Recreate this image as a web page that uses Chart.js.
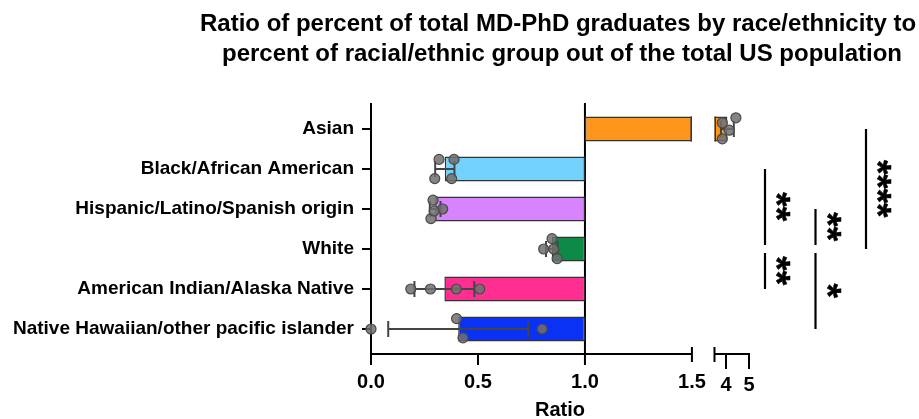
<!DOCTYPE html>
<html>
<head>
<meta charset="utf-8">
<script src="https://cdn.jsdelivr.net/npm/chart.js@4.4.1/dist/chart.umd.min.js"></script>
<style>
  html, body { margin: 0; padding: 0; background: #ffffff; }
  #wrap { width: 919px; height: 419px; position: relative; }
</style>
</head>
<body>
<div id="wrap"><canvas id="chart"></canvas></div>
<script>
// ---- data ----
const categories = [
  'Asian',
  'Black/African American',
  'Hispanic/Latino/Spanish origin',
  'White',
  'American Indian/Alaska Native',
  'Native Hawaiian/other pacific islander'
];
const means = [4.06, 0.345, 0.30, 0.845, 0.343, 0.4075];
const sds = [0.28, 0.045, 0.025, 0.027, 0.14, 0.327];
const pointValues = [
  [3.84, 3.84, 4.14, 4.43],
  [0.318, 0.388, 0.298, 0.377],
  [0.29, 0.335, 0.28, 0.295],
  [0.846, 0.807, 0.854, 0.87],
  [0.186, 0.278, 0.399, 0.508],
  [0.0, 0.40, 0.43, 0.80]
];
// vertical spread of the replicate dots, in category units
const pointSpread = [
  [-0.155, 0.245, 0.03, -0.28],
  [-0.24, -0.24, 0.24, 0.24],
  [-0.22, 0.0, 0.24, 0.05],
  [-0.26, 0.0, 0.0, 0.24],
  [0, 0, 0, 0],
  [0, -0.26, 0.22, 0]
];
const barColors = ['#FF961C', '#73D2FB', '#D883FF', '#0E8A47', '#FF2F92', '#0A32F5'];
const xTickValues = [0, 0.5, 1, 1.5, 4, 5];
const xTickLabels = ['0.0', '0.5', '1.0', '1.5', '4', '5'];
const segmentA = [0, 1.5];
const segmentB = [3.5, 5];
const baselineValue = 1;
const comparisons = [
  { upper: 'Black/African American', lower: 'White', stars: '**', column: 0 },
  { upper: 'White', lower: 'American Indian/Alaska Native', stars: '**', column: 0 },
  { upper: 'Hispanic/Latino/Spanish origin', lower: 'White', stars: '**', column: 1 },
  { upper: 'White', lower: 'Native Hawaiian/other pacific islander', stars: '*', column: 1 },
  { upper: 'Asian', lower: 'White', stars: '****', column: 2 }
];
const titleLines = [
  'Ratio of percent of total MD-PhD graduates by race/ethnicity to',
  'percent of racial/ethnic group out of the total US population'
];

// ---- broken value axis: two linear segments with a gap between them ----
const SHARE_A = 0.849, SHARE_GAP = 0.0597, SHARE_B = 1 - SHARE_A - SHARE_GAP;
class BrokenLinearScale extends Chart.LinearScale {
  _fraction(v) {
    const [a0, a1] = segmentA, [b0, b1] = segmentB;
    if (v <= a1) return (v - a0) / (a1 - a0) * SHARE_A;
    if (v < b0) return SHARE_A + (v - a1) / (b0 - a1) * SHARE_GAP;
    return SHARE_A + SHARE_GAP + (v - b0) / (b1 - b0) * SHARE_B;
  }
  getPixelForValue(v) {
    if (v === null || v === undefined || isNaN(v)) return NaN;
    return this.left + this._fraction(v) * this.width;
  }
  getValueForPixel(p) {
    const f = (p - this.left) / this.width;
    const [a0, a1] = segmentA, [b0, b1] = segmentB;
    if (f <= SHARE_A) return a0 + f / SHARE_A * (a1 - a0);
    if (f < SHARE_A + SHARE_GAP) return a1 + (f - SHARE_A) / SHARE_GAP * (b0 - a1);
    return b0 + (f - SHARE_A - SHARE_GAP) / SHARE_B * (b1 - b0);
  }
}
BrokenLinearScale.id = 'brokenLinear';
BrokenLinearScale.defaults = Chart.LinearScale.defaults;
Chart.register(BrokenLinearScale);

const FONT = '"Liberation Sans", Arial, Helvetica, sans-serif';
const STAR_FONT = 'bold 37px "Liberation Sans", Arial, sans-serif';
const INK = '#000000';

// ---- datasets ----
const barData = means.map(m => [baselineValue, m]);
const dotData = [];
pointValues.forEach((vals, i) => {
  vals.forEach((v, k) => dotData.push({ x: v, y: i + pointSpread[i][k] }));
});

function gapBounds(chart) {
  const x = chart.scales.x;
  return [x.getPixelForValue(segmentA[1]), x.getPixelForValue(segmentB[0])];
}

// hides the part of each bar that falls inside the axis break
const breakClip = {
  id: 'breakClip',
  beforeDatasetDraw(chart, args) {
    if (args.index !== 0) return;
    const { ctx, chartArea: a } = chart;
    const [g0, g1] = gapBounds(chart);
    ctx.save();
    ctx.beginPath();
    ctx.rect(a.left - 10, a.top - 10, g0 - a.left + 10, a.height + 20);
    ctx.rect(g1, a.top - 10, a.right - g1 + 10, a.height + 20);
    ctx.clip();
  },
  afterDatasetDraw(chart, args) {
    if (args.index !== 0) return;
    const { ctx } = chart;
    ctx.restore();
    const [g0, g1] = gapBounds(chart);
    const meta = chart.getDatasetMeta(0);
    const xs = chart.scales.x, ys = chart.scales.y;
    ctx.save();
    ctx.strokeStyle = '#333333';
    ctx.lineWidth = 1.5;
    meta.data.forEach((bar) => {
      const p = bar.getProps(['x', 'y', 'base', 'height'], true);
      const lo = Math.min(p.x, p.base), hi = Math.max(p.x, p.base);
      if (lo < g0 && hi > g1) {
        const t = p.y - p.height / 2, b = p.y + p.height / 2;
        ctx.beginPath();
        ctx.moveTo(g0 - 0.75, t); ctx.lineTo(g0 - 0.75, b);
        ctx.moveTo(g1 + 0.75, t); ctx.lineTo(g1 + 0.75, b);
        ctx.stroke();
      }
    });
    // error bars (mean ± SD)
    ctx.strokeStyle = '#444444';
    ctx.lineWidth = 2;
    means.forEach((m, i) => {
      const y = ys.getPixelForValue(i);
      const x0 = xs.getPixelForValue(m - sds[i]);
      const x1 = xs.getPixelForValue(m + sds[i]);
      ctx.beginPath();
      ctx.moveTo(x0, y); ctx.lineTo(x1, y);
      ctx.moveTo(x0, y - 8); ctx.lineTo(x0, y + 8);
      ctx.moveTo(x1, y - 8); ctx.lineTo(x1, y + 8);
      ctx.stroke();
    });
    ctx.restore();
  }
};

// axis lines, the break caps, the baseline at 1.0 and the tick marks
const brokenAxes = {
  id: 'brokenAxes',
  beforeDatasetsDraw(chart) {
    const { ctx, chartArea: a } = chart;
    const xs = chart.scales.x;
    const axisY = a.bottom + 5;
    const topY = a.top - 6;
    ctx.save();
    ctx.strokeStyle = INK;
    ctx.lineWidth = 2;
    ctx.lineCap = 'butt';
    // y axis
    ctx.beginPath();
    ctx.moveTo(a.left, topY); ctx.lineTo(a.left, axisY + 1);
    ctx.stroke();
    // baseline at 1.0
    const bx = xs.getPixelForValue(baselineValue);
    ctx.beginPath();
    ctx.moveTo(bx, topY); ctx.lineTo(bx, axisY);
    ctx.stroke();
    // x axis segments
    const pa0 = xs.getPixelForValue(segmentA[0]), pa1 = xs.getPixelForValue(segmentA[1]);
    const pb0 = xs.getPixelForValue(segmentB[0]), pb1 = xs.getPixelForValue(segmentB[1]);
    ctx.beginPath();
    ctx.moveTo(pa0 - 1, axisY); ctx.lineTo(pa1, axisY);
    ctx.moveTo(pb0, axisY); ctx.lineTo(pb1 + 1, axisY);
    // break caps
    ctx.moveTo(pa1, axisY - 7); ctx.lineTo(pa1, axisY + 8);
    ctx.moveTo(pb0, axisY - 7); ctx.lineTo(pb0, axisY + 8);
    ctx.stroke();
    // tick marks
    xTickValues.forEach(v => {
      if (v === segmentA[1]) return;
      const px = xs.getPixelForValue(v);
      const len = v >= segmentB[0] ? 15 : 11;
      ctx.beginPath();
      ctx.moveTo(px, axisY); ctx.lineTo(px, axisY + len);
      ctx.stroke();
    });
    ctx.restore();
  }
};

// significance brackets with rotated asterisks
const significance = {
  id: 'significance',
  afterDraw(chart) {
    const { ctx, chartArea: a } = chart;
    const ys = chart.scales.y;
    const trim = 4;
    ctx.save();
    ctx.strokeStyle = INK;
    ctx.fillStyle = INK;
    ctx.lineWidth = 2.2;
    comparisons.forEach((c, idx) => {
      const iu = categories.indexOf(c.upper), il = categories.indexOf(c.lower);
      let y0 = ys.getPixelForValue(iu), y1 = ys.getPixelForValue(il);
      const shared = (cat) => comparisons.some((o, j) => j !== idx && o.column === c.column && (o.upper === cat || o.lower === cat));
      if (shared(c.upper)) y0 += trim;
      if (shared(c.lower)) y1 -= trim;
      const x = a.right + 16 + c.column * 50.5;
      ctx.beginPath();
      ctx.moveTo(x, y0); ctx.lineTo(x, y1);
      ctx.stroke();
      const cy = (y0 + y1) / 2;
      ctx.save();
      ctx.translate(x + 18, cy);
      ctx.rotate(Math.PI / 2);
      ctx.font = STAR_FONT;
      ctx.textAlign = 'center';
      ctx.textBaseline = 'alphabetic';
      ctx.lineWidth = 0.5;
      const m = ctx.measureText(c.stars);
      const shift = (m.actualBoundingBoxAscent - m.actualBoundingBoxDescent) / 2;
      const hShift = (m.actualBoundingBoxLeft - m.actualBoundingBoxRight) / 2;
      ctx.fillText(c.stars, hShift, shift);
      ctx.strokeText(c.stars, hShift, shift);
      ctx.restore();
    });
    ctx.restore();
  }
};

// two-line heading centred over the plot area
const heading = {
  id: 'heading',
  afterDraw(chart) {
    const { ctx, chartArea: a } = chart;
    const cx = (a.left + a.right) / 2;
    ctx.save();
    ctx.fillStyle = INK;
    ctx.font = 'bold 24px ' + FONT;
    ctx.textAlign = 'center';
    ctx.textBaseline = 'alphabetic';
    ctx.fillText(titleLines[0], cx - 2, 31);
    ctx.fillText(titleLines[1], cx + 2, 61);
    ctx.restore();
  }
};

new Chart(document.getElementById('chart'), {
  data: {
    labels: categories,
    datasets: [
      {
        type: 'bar',
        indexAxis: 'y',
        data: barData,
        xAxisID: 'x',
        yAxisID: 'y',
        backgroundColor: barColors,
        borderColor: '#333333',
        borderWidth: 1.5,
        borderSkipped: false,
        categoryPercentage: 0.7,
        barPercentage: 0.9,
        order: 2
      },
      {
        type: 'scatter',
        data: dotData,
        xAxisID: 'x',
        yAxisID: 'yDots',
        pointRadius: 5,
        pointHoverRadius: 5,
        pointBackgroundColor: 'rgba(112,112,112,0.85)',
        pointBorderColor: '#4a4a4a',
        pointBorderWidth: 1.2,
        clip: false,
        order: 1
      }
    ]
  },
  options: {
    responsive: true,
    maintainAspectRatio: false,
    animation: false,
    events: [],
    layout: { padding: { top: 109, right: 170, left: 0, bottom: 0 } },
    plugins: {
      legend: { display: false },
      tooltip: { enabled: false },
      title: { display: false }
    },
    scales: {
      x: {
        type: 'brokenLinear',
        position: 'bottom',
        min: 0,
        max: 5,
        border: { display: false },
        grid: { display: false, drawTicks: false },
        afterBuildTicks: s => { s.ticks = xTickValues.map(v => ({ value: v })); },
        afterFit: s => { s.height = 70; },
        ticks: {
          autoSkip: false,
          maxRotation: 0,
          minRotation: 0,
          padding: 23,
          color: INK,
          font: c => ({ family: FONT, weight: 'bold', size: 20,
                        lineHeight: (c.tick && c.tick.value >= segmentB[0]) ? 1.35 : 1.0 }),
          callback: (value, index) => xTickLabels[index]
        },
        title: {
          display: true,
          text: 'Ratio',
          color: INK,
          font: { family: FONT, weight: 'bold', size: 20, lineHeight: 1.0 },
          padding: { top: 0, bottom: -1 }
        }
      },
      y: {
        type: 'category',
        position: 'left',
        offset: true,
        border: { display: false },
        grid: {
          display: true,
          offset: false,
          drawOnChartArea: false,
          drawTicks: true,
          tickLength: 9,
          color: INK,
          lineWidth: 2
        },
        afterFit: s => { s.width = 371; },
        ticks: {
          color: INK,
          padding: 8,
          font: { family: FONT, weight: 'bold', size: 19 }
        }
      },
      yDots: {
        type: 'linear',
        display: false,
        position: 'left',
        reverse: true,
        min: -0.5,
        max: categories.length - 0.5
      }
    }
  },
  plugins: [breakClip, brokenAxes, significance, heading]
});
</script>
</body>
</html>
